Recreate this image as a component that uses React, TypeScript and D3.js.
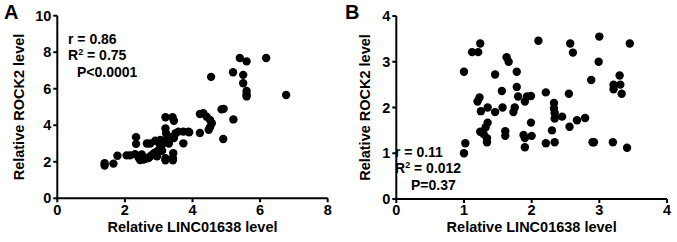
import React from "react";
import * as d3 from "d3";

const panelAX = [1.40,1.40,1.66,1.78,2.05,2.15,2.30,2.33,2.33,2.40,2.45,2.55,2.62,2.70,2.75,2.65,2.75,2.82,2.88,2.95,2.90,3.00,3.05,3.00,3.10,3.15,3.20,3.20,3.20,3.20,3.22,3.25,3.30,3.35,3.41,3.45,3.42,3.42,3.45,3.50,3.58,3.73,3.73,3.88,3.90,4.22,4.22,4.32,4.42,4.52,4.57,4.52,4.48,4.55,4.86,4.92,4.91,5.21,5.20,5.40,5.50,5.50,5.60,5.60,5.60,5.60,6.18,6.77,3.05,2.50,2.95,3.10,3.33,3.43];
const panelAY = [1.80,1.92,1.90,2.33,2.35,2.35,2.42,3.35,2.98,2.25,2.10,2.12,2.18,2.20,2.30,3.00,3.00,2.40,2.50,2.55,3.15,2.65,2.80,3.05,2.95,3.10,2.20,2.08,3.82,4.44,3.55,3.20,3.00,3.35,4.44,4.25,2.20,2.08,3.30,3.56,3.65,3.65,3.01,3.65,3.62,3.58,4.62,4.66,4.47,4.29,4.11,3.90,3.75,6.65,4.87,4.90,3.25,4.32,6.90,7.68,6.76,6.30,7.50,5.88,5.68,5.58,7.68,5.66,3.20,2.40,2.30,2.60,3.19,2.47];

const panelBX = [1.00,1.02,1.00,1.12,1.21,1.24,1.20,1.23,1.25,1.24,1.29,1.32,1.35,1.34,1.34,1.35,1.46,1.46,1.56,1.57,1.61,1.61,1.63,1.66,1.73,1.75,1.78,1.78,1.80,1.88,1.90,1.90,1.90,1.93,1.99,1.99,2.00,2.10,2.21,2.21,2.30,2.33,2.33,2.34,2.34,2.34,2.45,2.55,2.56,2.57,2.61,2.67,2.79,2.88,2.90,2.92,2.99,3.00,3.20,3.21,3.21,3.30,3.31,3.33,3.41,3.45];
const panelBY = [1.00,1.22,2.78,3.21,3.21,3.40,2.13,2.22,1.92,1.47,1.42,1.57,1.67,1.33,1.24,2.00,1.90,2.72,2.36,2.00,1.48,1.38,3.10,3.00,1.90,2.00,2.45,2.78,2.24,1.40,1.33,1.13,2.13,2.24,2.25,1.67,1.38,3.46,2.33,1.22,1.50,2.10,1.98,1.88,1.76,1.24,1.80,2.30,1.58,3.40,3.20,1.72,1.77,2.60,1.24,1.24,3.00,3.55,1.24,2.50,2.40,2.70,2.50,2.30,1.12,3.40];

const ticksA_X = [0, 2, 4, 6, 8];
const ticksA_Y = [0, 2, 4, 6, 8, 10];
const ticksB_X = [0, 1, 2, 3, 4];
const ticksB_Y = [0, 1, 2, 3, 4];

const xLabel = "Relative LINC01638 level";
const yLabel = "Relative ROCK2 level";

const FONT = "'Liberation Sans', Arial, Helvetica, sans-serif";

type PanelProps = {
  xs: number[];
  ys: number[];
  xDomain: [number, number];
  yDomain: [number, number];
  xRange: [number, number];
  yRange: [number, number];
  xTicks: number[];
  yTicks: number[];
  letter: string;
  letterX: number;
  yLabelX: number;
  stats: { r: string; r2: string; p: string; x: number; y: number; px: number };
};

function Panel(p: PanelProps) {
  const x = d3.scaleLinear().domain(p.xDomain).range(p.xRange);
  const y = d3.scaleLinear().domain(p.yDomain).range(p.yRange);
  const x0 = p.xRange[0];
  const y0 = p.yRange[0];
  const cx = (p.xRange[0] + p.xRange[1]) / 2;
  const cy = (p.yRange[0] + p.yRange[1]) / 2;
  return (
    <g fontFamily={FONT} fontWeight="bold">
      <text x={p.letterX} y={19} fontSize={20}>{p.letter}</text>
      {p.xs.map((v, i) => (
        <circle key={i} cx={x(v)} cy={y(p.ys[i])} r={4.2} fill="#000" />
      ))}
      <line x1={x0} x2={x0} y1={y0} y2={p.yRange[1]} stroke="#000" strokeWidth={2} />
      <line x1={x0 - 1} x2={p.xRange[1]} y1={y0} y2={y0} stroke="#000" strokeWidth={2} />
      {p.xTicks.map((t) => (
        <g key={"x" + t}>
          <line x1={x(t)} x2={x(t)} y1={y0} y2={y0 + 4} stroke="#000" strokeWidth={2} />
          <text x={x(t)} y={215} fontSize={14.5} textAnchor="middle">{t}</text>
        </g>
      ))}
      {p.yTicks.map((t) => (
        <g key={"y" + t}>
          <line x1={x0 - 4} x2={x0} y1={y(t)} y2={y(t)} stroke="#000" strokeWidth={2} />
          <text x={x0 - 6} y={y(t)} dy="0.35em" fontSize={14.5} textAnchor="end">{t}</text>
        </g>
      ))}
      <text x={cx} y={232} fontSize={14.5} textAnchor="middle">{xLabel}</text>
      <text
        transform={`translate(${p.yLabelX},${cy}) rotate(-90)`}
        fontSize={14.5}
        textAnchor="middle"
      >
        {yLabel}
      </text>
      <text x={p.stats.x} y={p.stats.y} fontSize={14}>{p.stats.r}</text>
      <text x={p.stats.x} y={p.stats.y + 16.8} fontSize={14}>
        R
        <tspan fontSize={9} dy={-5}>2</tspan>
        <tspan dy={5}>{" = " + p.stats.r2}</tspan>
      </text>
      <text x={p.stats.px} y={p.stats.y + 33.6} fontSize={14}>{p.stats.p}</text>
    </g>
  );
}

export default function App() {
  return (
    <svg
      width={677}
      height={242}
      style={{ position: "absolute", left: 0, top: 0, background: "#fff" }}
    >
      <Panel
        xs={panelAX}
        ys={panelAY}
        xDomain={[0, 8]}
        yDomain={[0, 10]}
        xRange={[57.3, 327.7]}
        yRange={[198.3, 15.7]}
        xTicks={ticksA_X}
        yTicks={ticksA_Y}
        letter="A"
        letterX={4}
        yLabelX={24}
        stats={{ r: "r = 0.86", r2: "0.75", p: "P<0.0001", x: 68, y: 43.5, px: 77 }}
      />
      <Panel
        xs={panelBX}
        ys={panelBY}
        xDomain={[0, 4]}
        yDomain={[0, 4]}
        xRange={[396.3, 667]}
        yRange={[199, 16]}
        xTicks={ticksB_X}
        yTicks={ticksB_Y}
        letter="B"
        letterX={345}
        yLabelX={370}
        stats={{ r: "r = 0.11", r2: "0.012", p: "P=0.37", x: 395, y: 156.5, px: 411 }}
      />
    </svg>
  );
}
